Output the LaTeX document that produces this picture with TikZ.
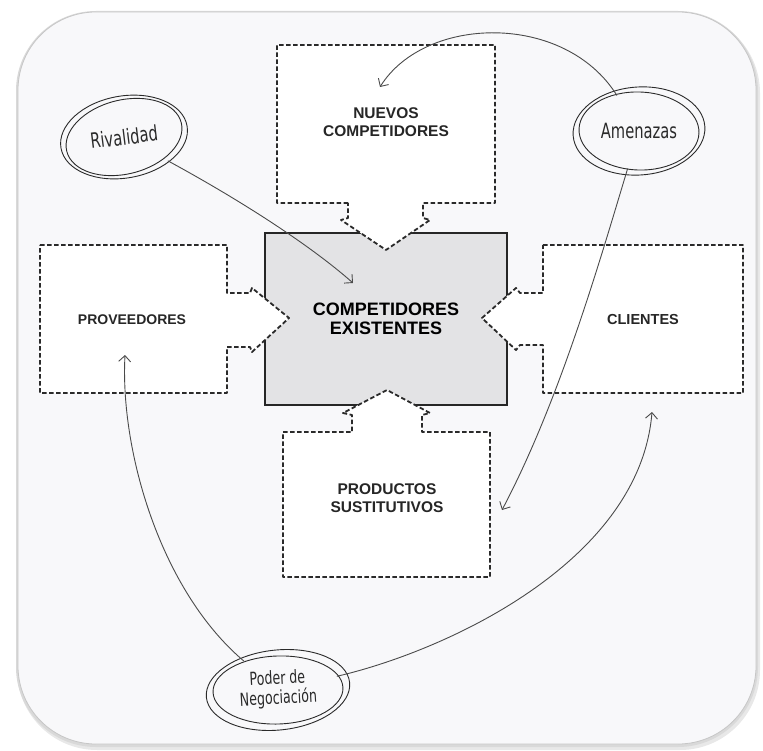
\documentclass[tikz,border=0pt]{standalone}
\usepackage{fontspec}
\setmainfont{Liberation Sans}
\newfontfamily\handfont[FakeStretch=0.7]{DejaVu Sans}
\usetikzlibrary{shapes.geometric,arrows.meta}

\definecolor{inkgray}{HTML}{2A2A2A}
\definecolor{linkgray}{HTML}{4A4A4A}
\definecolor{coregray}{HTML}{E3E3E5}
\definecolor{cardfill}{HTML}{F8F8FA}

\tikzset{
  force/.style={draw=inkgray, line width=1.8pt, dash pattern=on 4.5pt off 2.5pt, fill=white, line join=round},
  boxtext/.style={font=\bfseries\fontsize{15.5}{18}\selectfont, align=center, text=black!85},
  core/.style={draw=black!85, line width=1.8pt, fill=coregray, minimum width=242pt, minimum height=172pt,
    font=\bfseries\fontsize{18}{19}\selectfont, align=center},
  oval/.style={shape=ellipse, inner sep=0pt, text=inkgray, align=center},
  ring/.style={draw=inkgray, line width=0.9pt},
  link/.style={draw=linkgray, line width=0.9pt, -{Straight Barb[length=6pt,width=12pt]}}
}

\begin{document}
\begin{tikzpicture}[x=1pt,y=-1pt]
\useasboundingbox (0,0) rectangle (763,751);

% card
\fill[gray!18, rounded corners=80pt] (17,13) rectangle (760,750);
\fill[gray!30, rounded corners=80pt] (16,11) rectangle (758,747);
\fill[cardfill, draw=gray!45, line width=0.8pt, rounded corners=78pt] (18,12) rectangle (756,744);

% centre
\node[core] (existentes) at (386,319) {COMPETIDORES\\EXISTENTES};

% the four forces
\draw[force] (348,203) -- (277,203) -- (277,45) -- (495,45) -- (495,203) -- (423,203) -- (423,218)
  -- (430,220) -- (386,250) -- (341,220) -- (348,218) -- cycle;
\draw[force] (40,245) -- (227,245) -- (227,293) -- (250,293) -- (252,288) -- (289,318)
  -- (252,352) -- (250,347) -- (227,347) -- (227,393) -- (40,393) -- cycle;
\draw[force] (543,245) -- (743,245) -- (743,393) -- (543,393) -- (543,345) -- (520,345)
  -- (516,350) -- (482,318) -- (516,288) -- (520,293) -- (543,293) -- cycle;
\draw[force] (283,432) -- (352,432) -- (352,415) -- (343,413) -- (387,390) -- (430,413)
  -- (422,415) -- (422,432) -- (490,432) -- (490,577) -- (283,577) -- cycle;

\node[boxtext] (nuevos) at (386,122) {NUEVOS\\COMPETIDORES};
\node[boxtext, font=\bfseries\fontsize{14}{16}\selectfont] (proveedores) at (132,320) {PROVEEDORES};
\node[boxtext, font=\bfseries\fontsize{14.5}{16}\selectfont] (clientes) at (643,320) {CLIENTES};
\node[boxtext] (sustitutos) at (387,498) {PRODUCTOS\\SUSTITUTIVOS};

% handwritten notes
\node[oval, minimum width=116pt, minimum height=72pt] (rivalidad) at (124,137)
  {\rotatebox{7}{\handfont\fontsize{21}{20}\selectfont Rivalidad}};
\node[oval, minimum width=120pt, minimum height=76pt] (amenazas) at (639,131)
  {\handfont\fontsize{21}{20}\selectfont Amenazas};
\node[oval, minimum width=128pt, minimum height=68pt] (poder) at (278,690)
  {\rotatebox{3}{\handfont\fontsize{18}{18}\selectfont\begin{tabular}{@{}c@{}}Poder de\\Negociación\end{tabular}}};

\draw[ring, rotate around={10:(rivalidad.center)}] (rivalidad.center) ellipse (64pt and 41pt);
\draw[ring, rotate around={14:(rivalidad.center)}] (rivalidad.center) ellipse (59pt and 37pt);
\draw[ring, rotate around={4:(amenazas.center)}] (amenazas.center) ellipse (66pt and 44pt);
\draw[ring, rotate around={-2:(amenazas.center)}] (amenazas.center) ellipse (60pt and 39pt);
\draw[ring, rotate around={6:(poder.center)}] (poder.center) ellipse (72pt and 40pt);
\draw[ring, rotate around={2:(poder.center)}] (poder.center) ellipse (65pt and 34pt);

% arrows
\coordinate (rivIn) at (353,283);
\coordinate (nuevosIn) at (380,87);
\coordinate (sustIn) at (502,510);
\coordinate (provIn) at (125,355);
\coordinate (clientIn) at (652,412);

\draw[link] (rivalidad) .. controls (240,200) and (310,245) .. (rivIn);
\draw[link] (amenazas) .. controls (565,12) and (425,15) .. (nuevosIn);
\draw[link] (amenazas) .. controls (600,260) and (560,400) .. (sustIn);
\draw[link] (poder) .. controls (160,590) and (120,450) .. (provIn);
\draw[link] (poder) .. controls (450,650) and (640,560) .. (clientIn);
\end{tikzpicture}
\end{document}
